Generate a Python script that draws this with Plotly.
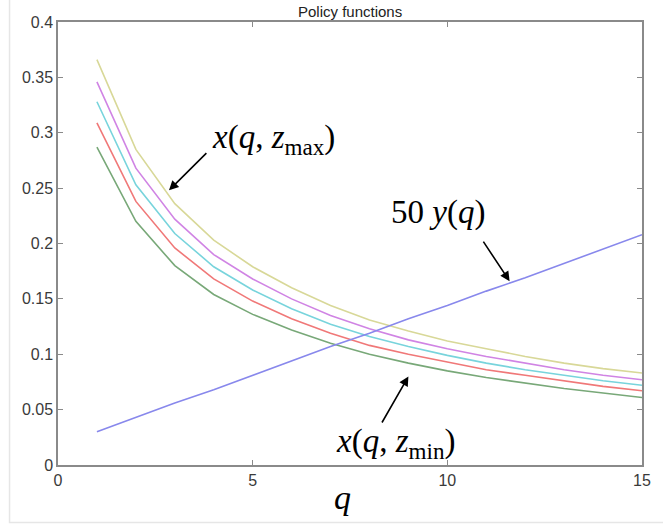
import plotly.graph_objects as go

q = list(range(1, 16))
x_zmax = [0.366, 0.285, 0.236, 0.203, 0.179, 0.160, 0.144, 0.131, 0.121, 0.112, 0.105, 0.098, 0.092, 0.087, 0.083]
x_z4 = [0.346, 0.268, 0.222, 0.190, 0.168, 0.150, 0.135, 0.123, 0.113, 0.105, 0.098, 0.092, 0.086, 0.081, 0.077]
x_z3 = [0.328, 0.253, 0.209, 0.179, 0.158, 0.141, 0.127, 0.116, 0.107, 0.099, 0.092, 0.086, 0.081, 0.076, 0.072]
x_z2 = [0.309, 0.238, 0.196, 0.168, 0.148, 0.132, 0.119, 0.108, 0.100, 0.093, 0.086, 0.081, 0.076, 0.071, 0.067]
x_zmin = [0.287, 0.220, 0.180, 0.154, 0.136, 0.122, 0.110, 0.100, 0.092, 0.085, 0.079, 0.074, 0.069, 0.065, 0.061]
y50 = [0.030, 0.043, 0.056, 0.068, 0.081, 0.094, 0.107, 0.119, 0.132, 0.144, 0.157, 0.169, 0.182, 0.195, 0.208]

series = [
    (x_zmin, "#78a878"),
    (x_z2, "#f07878"),
    (x_z3, "#78d4dc"),
    (x_z4, "#d084e4"),
    (x_zmax, "#d8d898"),
    (y50, "#8888ec"),
]

xticks = [0, 5, 10, 15]
yticks = [0, 0.05, 0.1, 0.15, 0.2, 0.25, 0.3, 0.35, 0.4]
yticklabels = ["0", "0.05", "0.1", "0.15", "0.2", "0.25", "0.3", "0.35", "0.4"]

fig = go.Figure()
for vals, col in series:
    fig.add_trace(go.Scatter(x=q, y=vals, mode="lines",
                             line=dict(color=col, width=1.6), showlegend=False))

axis_common = dict(showgrid=False, zeroline=False, showline=True, linecolor="#8a8a8a",
                   linewidth=1.5, mirror="ticks", ticks="inside", ticklen=5,
                   tickcolor="#8a8a8a", tickwidth=1,
                   tickfont=dict(family="Liberation Sans, Arial", size=16, color="#3a3a3a"))

fig.update_xaxes(range=[0, 15], tickvals=xticks, ticktext=[str(t) for t in xticks], **axis_common)
fig.update_yaxes(range=[0, 0.4], tickvals=yticks, ticktext=yticklabels, **axis_common)

serif = "Liberation Serif, Times New Roman, serif"
ann = [
    dict(x=0.5, y=1, xref="paper", yref="paper", text="Policy functions", showarrow=False,
         yanchor="bottom", yshift=0, font=dict(family="Liberation Sans, Arial", size=15, color="#222")),
    dict(x=7.3, y=0, xref="x", yref="y", text="<i>q</i>", showarrow=False,
         yanchor="top", yshift=-12, font=dict(family=serif, size=34, color="black")),
    dict(x=2.85, y=0.248, xref="x", yref="y", ax=3.85, ay=0.283, axref="x", ayref="y",
         text="", showarrow=True, arrowhead=2, arrowsize=1.2, arrowwidth=1.6, arrowcolor="black"),
    dict(x=3.9, y=0.294, xref="x", yref="y", text="<i>x</i>(<i>q</i>, <i>z</i><sub>max</sub>)",
         showarrow=False, xanchor="left", font=dict(family=serif, size=33, color="black")),
    dict(x=11.6, y=0.166, xref="x", yref="y", ax=10.9, ay=0.203, axref="x", ayref="y",
         text="", showarrow=True, arrowhead=2, arrowsize=1.2, arrowwidth=1.6, arrowcolor="black"),
    dict(x=8.5, y=0.228, xref="x", yref="y", text="50 <i>y</i>(<i>q</i>)",
         showarrow=False, xanchor="left", font=dict(family=serif, size=33, color="black")),
    dict(x=9.0, y=0.080, xref="x", yref="y", ax=8.3, ay=0.037, axref="x", ayref="y",
         text="", showarrow=True, arrowhead=2, arrowsize=1.2, arrowwidth=1.6, arrowcolor="black"),
    dict(x=7.1, y=0.019, xref="x", yref="y", text="<i>x</i>(<i>q</i>, <i>z</i><sub>min</sub>)",
         showarrow=False, xanchor="left", font=dict(family=serif, size=33, color="black")),
]

fig.update_layout(
    width=663, height=529,
    margin=dict(l=58, r=17, t=22, b=64),
    paper_bgcolor="white", plot_bgcolor="white",
    annotations=ann,
    shapes=[dict(type="rect", xref="paper", yref="paper", x0=-0.083, x1=1.05, y0=-0.13, y1=1.06,
                 line=dict(color="#e6e6e6", width=1.5))],
)

fig.write_html("out.html")
